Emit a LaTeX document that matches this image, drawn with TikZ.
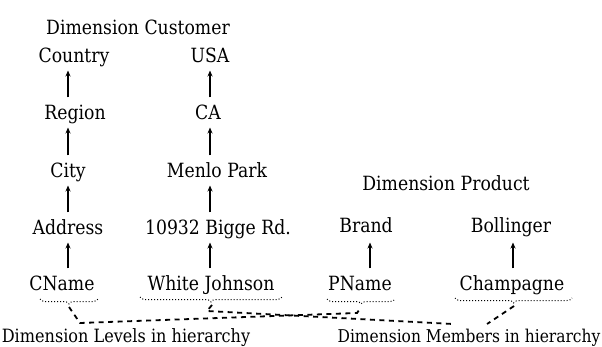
\documentclass[tikz,border=0pt]{standalone}
\usepackage{fontspec}
\setmainfont{DejaVu Serif}[FakeStretch=0.88]
\usetikzlibrary{arrows.meta,decorations.pathreplacing}
\newcommand{\fs}{\fontsize{19.6}{22}\selectfont}
\newcommand{\fsb}{\fontsize{18.3}{21}\selectfont}
\newcommand{\fsc}{\fontsize{17.6}{21}\selectfont}
\begin{document}
\begin{tikzpicture}[x=1pt,y=-1pt,
  lbl/.style={font=\fs, inner sep=0pt, anchor=base},
  blbl/.style={font=\fsb, inner sep=0pt, anchor=base},
  arr/.style={line width=1.7pt, -{Stealth[length=6pt,width=5pt]}, shorten <=22pt, shorten >=8pt},
  br/.style={decorate, decoration={brace,mirror,amplitude=5pt}, dotted, line width=1pt},
  dl/.style={line width=1.8pt, dash pattern=on 5pt off 4.5pt}]
\useasboundingbox (0,0) rectangle (602,347);
% columns
\coordinate (cL) at (68,0);
\coordinate (cR) at (210,0);
\coordinate (cB) at (370,0);
\coordinate (cC) at (513,0);
% customer dimension
\node[lbl] (dc) at (138,34.5) {Dimension Customer};
\node[lbl] (country) at (74,62.5) {Country};
\node[lbl] (usa) at (210,62.5) {USA};
\node[lbl] (region) at (75,119.5) {Region};
\node[lbl] (ca) at (208,119.5) {CA};
\node[lbl] (city) at (68,177.5) {City};
\node[lbl] (menlo) at (217,177.5) {Menlo Park};
\node[lbl] (address) at (68,234.5) {Address};
\node[lbl] (bigge) at (218,234.5) {10932 Bigge Rd.};
\node[lbl] (cname) at (62,290.5) {CName};
\node[lbl] (wj) at (211,290.5) {White Johnson};
% product dimension
\node[lbl] (dp) at (446,190.5) {Dimension Product};
\node[lbl] (brand) at (366,232.5) {Brand};
\node[lbl] (bollinger) at (511,232.5) {Bollinger};
\node[lbl] (pname) at (360,290.5) {PName};
\node[lbl] (champ) at (512,290.5) {Champagne};
% bottom labels
\node[blbl] (levels) at (126,342) {Dimension Levels in hierarchy};
\node[blbl, font=\fsc] (members) at (469,342) {Dimension Members in hierarchy};
% arrows
\draw[arr] (region.base -| cL) -- (country.base -| cL);
\draw[arr] (city.base -| cL) -- (region.base -| cL);
\draw[arr] (address.base -| cL) -- (city.base -| cL);
\draw[arr] (cname.base -| cL) -- (address.base -| cL);
\draw[arr] (ca.base -| cR) -- (usa.base -| cR);
\draw[arr] (menlo.base -| cR) -- (ca.base -| cR);
\draw[arr] (bigge.base -| cR) -- (menlo.base -| cR);
\draw[arr] (wj.base -| cR) -- (bigge.base -| cR);
\draw[arr, shorten >=10pt] (pname.base -| cB) -- (brand.base -| cB);
\draw[arr, shorten >=10pt] (champ.base -| cC) -- (bollinger.base -| cC);
% dotted braces
\draw[br] (40,299) -- (98,299);
\draw[br] (140,297) -- (282,297);
\draw[br] (327,299) -- (395,299);
\draw[br] (455,298) -- (572,298);
\coordinate (cnTip) at (69,307);
\coordinate (wjTip) at (212,305);
\coordinate (pnTip) at (361,307);
\coordinate (chTip) at (514,306);
\coordinate (lvA) at (80,323);
\coordinate (lvB) at (357,313);
\coordinate (mbA) at (207,311);
\coordinate (mbB) at (453,324);
\coordinate (mbC) at (487,324);
% dashed connectors
\draw[dl] (cnTip) -- (lvA) -- (lvB) -- (pnTip);
\draw[dl] (wjTip) -- (mbA) -- (mbB);
\draw[dl] (chTip) -- (mbC);
\end{tikzpicture}
\end{document}
